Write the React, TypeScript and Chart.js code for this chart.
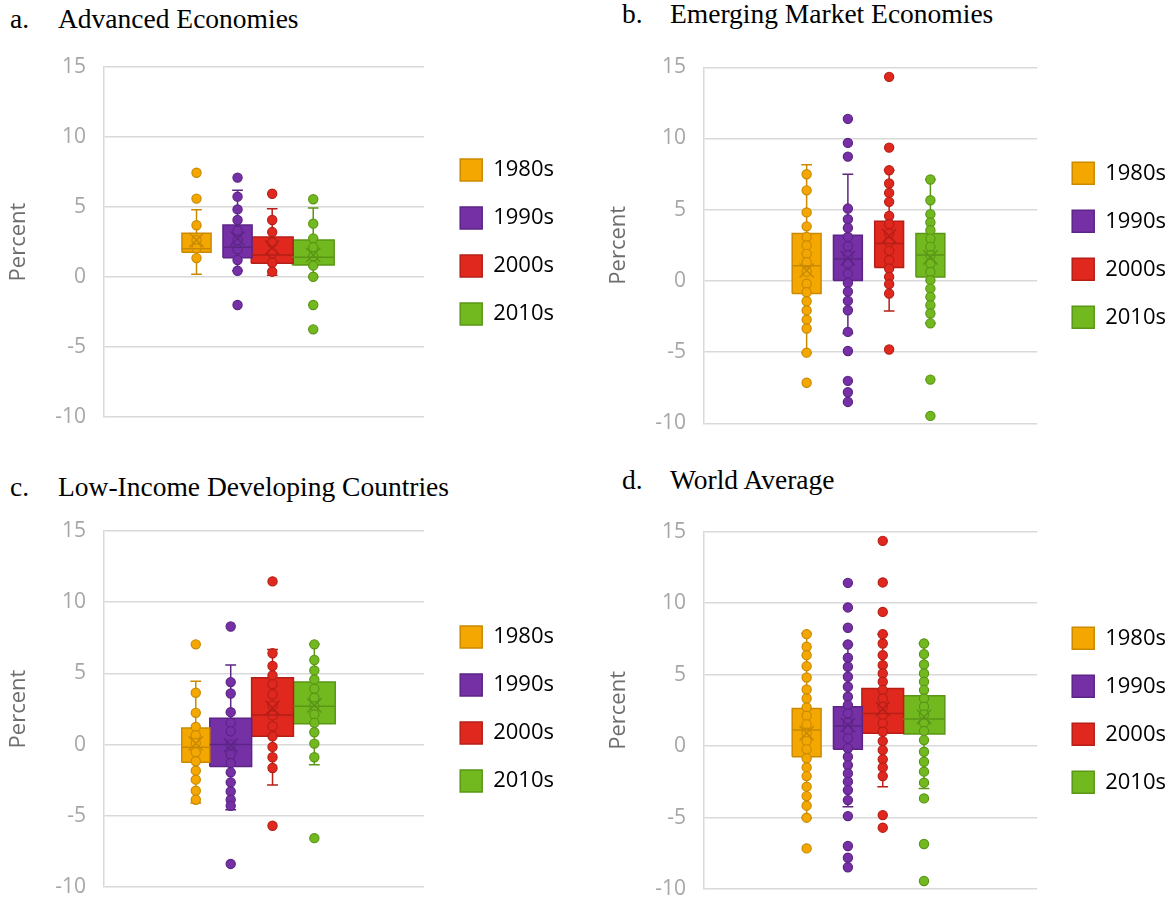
import React, { useEffect, useRef } from "react";
import { Chart, registerables } from "chart.js";

Chart.register(...registerables);

// ---------- shared categories / styling ----------
const decades = ["1980s", "1990s", "2000s", "2010s"];
const fillColors = ["#F4A700", "#7630A6", "#E0281E", "#72B91F"];
const edgeColors = ["#C98A00", "#5C2485", "#B51F17", "#5A9617"];
const yMin = -10;
const yMax = 15;
const yStep = 5;
const yAxisTitle = "Percent";

// ---------- a. Advanced Economies ----------
const advPoints1980s = [7.45, 5.6, 3.7, 2.65, 2.05, 1.35];
const advPoints1990s = [7.1, 5.74, 4.83, 4.07, 3.31, 2.64, 1.98, 1.21, 0.45, -2.0];
const advPoints2000s = [5.95, 4.07, 3.21, 2.45, 1.69, 1.02, 0.38];
const advPoints2010s = [5.55, 3.81, 2.76, 2.12, 1.48, 0.81, 0.02, -2.0, -3.74];
const advQ1 = [1.76, 1.38, 0.98, 0.86];
const advMedian = [2.02, 2.12, 1.57, 1.41];
const advQ3 = [3.12, 3.71, 2.86, 2.64];
const advLow = [0.19, 0.45, 0.12, 0.0];
const advHigh = [4.81, 6.19, 4.88, 4.93];
const advMean = [2.64, 2.75, 2.1, 1.57];

// ---------- b. Emerging Market Economies ----------
const emePoints1980s = [7.49, 6.36, 4.81, 3.83, 3.08, 2.49, 1.9, 1.31, 0.65, -0.2, -0.8, -1.43, -2.07, -2.72, -3.34, -5.04, -7.15];
const emePoints1990s = [11.38, 9.69, 8.73, 5.08, 4.33, 3.72, 3.09, 2.43, 1.8, 1.22, 0.51, -0.14, -0.75, -1.4, -2.06, -3.58, -4.92, -7.02, -7.82, -8.5];
const emePoints2000s = [14.33, 9.36, 7.77, 6.84, 6.18, 5.55, 4.56, 3.98, 3.32, 2.74, 2.11, 1.45, 0.87, 0.28, -0.23, -0.89, -4.82];
const emePoints2010s = [7.12, 5.66, 4.68, 4.1, 3.56, 2.97, 2.39, 1.8, 1.22, 0.63, 0.05, -0.54, -1.12, -1.71, -2.29, -2.98, -6.93, -9.48];
const emeQ1 = [-0.89, 0.02, 0.94, 0.28];
const emeMedian = [1.06, 1.54, 2.62, 1.82];
const emeQ3 = [3.33, 3.21, 4.19, 3.32];
const emeLow = [-5.04, -3.7, -2.11, -2.98];
const emeHigh = [8.15, 7.49, 7.77, 7.12];
const emeMean = [0.73, 1.6, 3.15, 1.65];

// ---------- c. Low-Income Developing Countries ----------
const lidcPoints1980s = [7.04, 3.64, 2.23, 1.24, 0.66, 0.12, -0.54, -1.17, -1.83, -2.46, -3.24, -3.87];
const lidcPoints1990s = [8.29, 4.39, 3.59, 2.28, 1.53, 0.94, 0.0, -0.7, -1.29, -1.95, -2.65, -3.29, -3.87, -4.3, -8.38];
const lidcPoints2000s = [11.46, 6.41, 5.52, 4.86, 4.23, 3.52, 2.75, 2.04, 1.29, 0.59, -0.16, -0.89, -1.64, -5.7];
const lidcPoints2010s = [7.04, 5.94, 5.21, 4.58, 3.92, 3.29, 2.7, 2.11, 1.53, 0.87, 0.07, -0.89, -6.57];
const lidcQ1 = [-1.24, -1.53, 0.59, 1.46];
const lidcMedian = [-0.19, 0.0, 2.07, 2.7];
const lidcQ3 = [1.17, 1.85, 4.69, 4.39];
const lidcLow = [-4.1, -4.58, -2.84, -1.41];
const lidcHigh = [4.44, 5.59, 6.67, 7.04];
const lidcMean = [0.08, -0.05, 2.58, 2.75];

// ---------- d. World Average ----------
const worldPoints1980s = [7.83, 6.95, 6.36, 5.59, 4.8, 3.96, 3.33, 2.7, 2.12, 1.52, 0.93, 0.35, -0.23, -0.86, -1.49, -2.1, -2.84, -3.5, -4.17, -5.01, -7.16];
const worldPoints1990s = [11.42, 9.7, 8.28, 7.11, 6.18, 5.55, 4.85, 4.15, 3.45, 2.87, 2.28, 1.63, 1.12, 0.54, -0.16, -0.75, -1.33, -1.91, -2.49, -3.08, -3.78, -4.9, -6.99, -7.81, -8.48];
const worldPoints2000s = [14.36, 11.45, 9.39, 7.83, 7.18, 6.36, 5.66, 5.08, 4.5, 3.92, 3.33, 2.75, 2.17, 1.59, 1.0, 0.35, -0.28, -0.93, -1.49, -2.1, -4.83, -5.71];
const worldPoints2010s = [7.18, 6.43, 5.71, 5.08, 4.5, 3.92, 3.33, 2.75, 2.21, 1.63, 1.05, 0.42, -0.4, -1.1, -1.79, -2.56, -3.66, -6.85, -9.44];
const worldQ1 = [-0.75, -0.23, 0.89, 0.84];
const worldMedian = [1.12, 1.4, 2.28, 1.89];
const worldQ3 = [2.63, 2.75, 4.03, 3.52];
const worldLow = [-5.01, -4.24, -2.84, -2.96];
const worldHigh = [7.9, 7.11, 7.83, 7.18];
const worldMean = [0.9, 1.47, 2.6, 2.05];

// ---------- panel layout (positions / sizes only) ----------
type Panel = {
  letter: string;
  title: string;
  titleLeft: number;
  titleTop: number;
  canvasLeft: number;
  canvasTop: number;
  canvasHeight: number;
  padTop: number;
  padBottom: number;
  xMin: number;
  xMax: number;
  boxWidths: number[];
  rightGap: number;
  legendLeft: number;
  points: number[][];
  q1: number[];
  median: number[];
  q3: number[];
  low: number[];
  high: number[];
  mean: number[];
};

const panels: Panel[] = [
  {
    letter: "a.", title: "Advanced Economies", titleLeft: 10, titleTop: 5,
    canvasLeft: 0, canvasTop: 40, canvasHeight: 400, padTop: 27, padBottom: 23,
    xMin: -2.11, xMax: 5.695, boxWidths: [0.71, 0.71, 1.02, 1.02], rightGap: 10, legendLeft: 434,
    points: [advPoints1980s, advPoints1990s, advPoints2000s, advPoints2010s],
    q1: advQ1, median: advMedian, q3: advQ3, low: advLow, high: advHigh, mean: advMean,
  },
  {
    letter: "b.", title: "Emerging Market Economies", titleLeft: 622, titleTop: 0,
    canvasLeft: 600, canvasTop: 40, canvasHeight: 400, padTop: 27.3, padBottom: 16.7,
    xMin: -2.338, xMax: 5.739, boxWidths: [0.7, 0.7, 0.7, 0.7], rightGap: 9, legendLeft: 446,
    points: [emePoints1980s, emePoints1990s, emePoints2000s, emePoints2010s],
    q1: emeQ1, median: emeMedian, q3: emeQ3, low: emeLow, high: emeHigh, mean: emeMean,
  },
  {
    letter: "c.", title: "Low-Income Developing Countries", titleLeft: 10, titleTop: 473,
    canvasLeft: 0, canvasTop: 500, canvasHeight: 404, padTop: 31, padBottom: 17,
    xMin: -2.03, xMax: 5.627, boxWidths: [0.67, 1.0, 1.0, 1.0], rightGap: 10, legendLeft: 434,
    points: [lidcPoints1980s, lidcPoints1990s, lidcPoints2000s, lidcPoints2010s],
    q1: lidcQ1, median: lidcMedian, q3: lidcQ3, low: lidcLow, high: lidcHigh, mean: lidcMean,
  },
  {
    letter: "d.", title: "World Average", titleLeft: 622, titleTop: 466,
    canvasLeft: 600, canvasTop: 500, canvasHeight: 404, padTop: 31.7, padBottom: 15,
    xMin: -2.338, xMax: 5.739, boxWidths: [0.7, 0.7, 1.01, 1.01], rightGap: 9, legendLeft: 446,
    points: [worldPoints1980s, worldPoints1990s, worldPoints2000s, worldPoints2010s],
    q1: worldQ1, median: worldMedian, q3: worldQ3, low: worldLow, high: worldHigh, mean: worldMean,
  },
];

const sansFamily = "'Open Sans', 'Noto Sans', sans-serif";
const legendFontSize = 22;
const legendBox = 22;
const legendPadding = 26;

function measureLegendWidth(): number {
  const ctx = document.createElement("canvas").getContext("2d");
  let tw = 62;
  if (ctx) {
    ctx.font = `${legendFontSize}px ${sansFamily}`;
    tw = Math.max(...decades.map((d) => ctx.measureText(d).width));
  }
  return legendPadding + legendBox + legendFontSize / 2 + tw + 10;
}

function buildDatasets(p: Panel): any[] {
  const ds: any[] = [];
  const cap = 0.13;
  decades.forEach((d, i) => {
    const right = i + 0.5;
    const w = p.boxWidths[i];
    const left = right - w;
    const c = right - w / 2;
    const fill = fillColors[i];
    const edge = edgeColors[i];
    // box
    ds.push({
      label: d + " box",
      data: [
        { x: left, y: p.q1[i] }, { x: right, y: p.q1[i] },
        { x: right, y: p.q3[i] }, { x: left, y: p.q3[i] }, { x: left, y: p.q1[i] },
      ],
      fill: "shape", backgroundColor: fill, borderColor: edge, borderWidth: 1.5,
      pointRadius: 0, tension: 0, order: 50,
    });
    // whiskers
    ds.push({
      label: d + " whiskers",
      data: [
        { x: c, y: p.q3[i] }, { x: c, y: p.high[i] }, { x: c - cap, y: p.high[i] }, { x: c + cap, y: p.high[i] },
        { x: c, y: null },
        { x: c, y: p.q1[i] }, { x: c, y: p.low[i] }, { x: c - cap, y: p.low[i] }, { x: c + cap, y: p.low[i] },
      ],
      fill: false, borderColor: edge, borderWidth: 1.5, pointRadius: 0, spanGaps: false, order: 45,
    });
    // data points
    ds.push({
      label: d,
      data: p.points[i].map((v) => ({ x: c, y: v })),
      showLine: false, pointRadius: 4.6, pointBackgroundColor: fill, pointBorderColor: edge,
      pointBorderWidth: 1.2, order: 30,
    });
    // median
    ds.push({
      label: d + " median",
      data: [{ x: left, y: p.median[i] }, { x: right, y: p.median[i] }],
      fill: false, borderColor: edge, borderWidth: 1.5, pointRadius: 0, order: 20,
    });
    // mean
    ds.push({
      label: d + " mean",
      data: [{ x: c, y: p.mean[i] }],
      showLine: false, pointStyle: "crossRot", pointRadius: 10, pointBorderColor: edge,
      pointBackgroundColor: edge, pointBorderWidth: 1.5, order: 10,
    });
  });
  return ds;
}

function PanelChart({ p }: { p: Panel }) {
  const ref = useRef<HTMLCanvasElement>(null);
  const legendW = measureLegendWidth();
  const width = Math.round(p.legendLeft + legendW);

  useEffect(() => {
    if (!ref.current) return;
    const chart = new Chart(ref.current, {
      type: "line",
      data: { datasets: buildDatasets(p) },
      options: {
        responsive: false,
        animation: false,
        events: [],
        layout: { padding: { top: p.padTop, bottom: p.padBottom, left: 0, right: 0 } },
        scales: {
          x: { type: "linear", display: false, min: p.xMin, max: p.xMax },
          y: {
            type: "linear",
            position: "left",
            min: yMin,
            max: yMax,
            ticks: {
              stepSize: yStep,
              padding: 0,
              color: "#a6a6a6",
              font: { family: sansFamily, size: 21 },
            },
            grid: {
              color: "#d9d9d9",
              lineWidth: 1.5,
              drawTicks: true,
              tickLength: 18,
              tickColor: "rgba(0,0,0,0)",
            },
            border: { display: true, color: "#d9d9d9", width: 1.5 },
            title: {
              display: true,
              text: yAxisTitle,
              color: "#6e6e6e",
              font: { family: sansFamily, size: 22 },
              padding: { top: 6, bottom: 0 },
            },
            afterFit: (s: any) => {
              s.width = 104;
            },
          },
          y2: {
            type: "linear",
            position: "right",
            display: true,
            grid: { display: false },
            border: { display: false },
            ticks: { display: false },
            afterFit: (s: any) => {
              s.width = p.rightGap;
            },
          },
        },
        plugins: {
          tooltip: { enabled: false },
          legend: {
            display: true,
            position: "right",
            maxWidth: 400,
            labels: {
              boxWidth: legendBox,
              boxHeight: legendBox,
              padding: legendPadding,
              color: "#a6a6a6",
              font: { family: sansFamily, size: legendFontSize },
              generateLabels: () =>
                decades.map((d, i) => ({
                  text: d,
                  fillStyle: fillColors[i],
                  strokeStyle: edgeColors[i],
                  lineWidth: 1.5,
                  hidden: false,
                  datasetIndex: i,
                })),
            },
          },
        },
      },
    } as any);
    return () => chart.destroy();
  }, []);

  const titleStyle: React.CSSProperties = {
    position: "absolute",
    top: p.titleTop,
    fontFamily: "'Liberation Serif', 'Times New Roman', serif",
    fontSize: 27.5,
    lineHeight: "28px",
    color: "#000",
    whiteSpace: "nowrap",
  };

  return (
    <>
      <div style={{ ...titleStyle, left: p.titleLeft }}>{p.letter}</div>
      <div style={{ ...titleStyle, left: p.titleLeft + 48 }}>{p.title}</div>
      <div style={{ position: "absolute", left: p.canvasLeft, top: p.canvasTop, width, height: p.canvasHeight }}>
        <canvas ref={ref} width={width} height={p.canvasHeight} style={{ display: "block" }} />
      </div>
    </>
  );
}

export default function App() {
  return (
    <div
      style={{
        position: "absolute",
        left: 0,
        top: 0,
        width: 1173,
        height: 904,
        overflow: "hidden",
        background: "#fff",
      }}
    >
      {panels.map((p) => (
        <PanelChart key={p.letter} p={p} />
      ))}
    </div>
  );
}
